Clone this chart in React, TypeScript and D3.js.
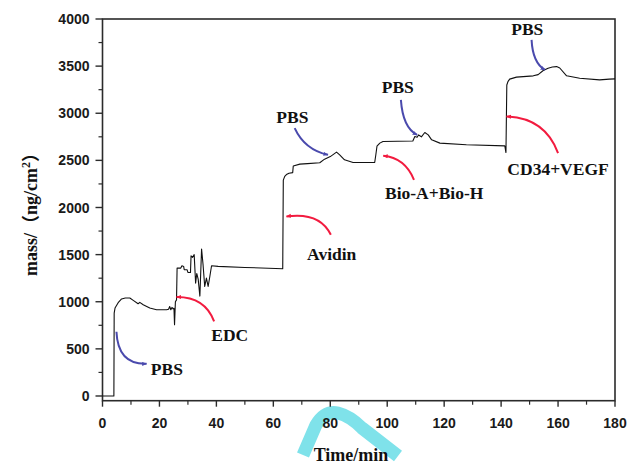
import React from "react";
import * as d3 from "d3";

const times: number[] = [0, 4.0, 4.1, 4.4, 5.5, 6.7, 8.0, 9.6, 10.8, 12.5, 13.1, 14.3, 16.6, 19, 22.5, 23.2, 23.6, 24.0, 24.4, 24.8, 25.1, 25.3, 25.6, 26.0, 26.2, 27.5, 27.9, 28.5, 28.7, 29.7, 30.0, 30.9, 31.1, 31.6, 32.2, 32.7, 33.1, 33.6, 34.2, 34.8, 35.3, 35.9, 36.5, 37.1, 37.7, 38.3, 40.6, 50, 63.3, 63.5, 64.0, 64.6, 65.5, 66.8, 67.0, 69.3, 72, 76.3, 78.0, 80.0, 82.2, 83.3, 85.0, 88.0, 95.6, 96.0, 96.4, 97.4, 98.5, 109, 109.7, 110.5, 111, 112, 113.2, 114.4, 115.6, 118.5, 127.8, 141.3, 141.7, 142.0, 142.4, 143, 145.4, 151.3, 153, 154.8, 156.5, 158, 159.5, 160.6, 163, 167.6, 174.6, 178, 180];
const masses: number[] = [0, 0, 880, 933, 990, 1030, 1040, 1039, 1014, 979, 993, 968, 933, 915, 915, 920, 950, 915, 940, 925, 930, 756, 1000, 1020, 1357, 1357, 1382, 1375, 1340, 1340, 1311, 1311, 1488, 1470, 1500, 1198, 1300, 1240, 1060, 1559, 1400, 1162, 1251, 1162, 1268, 1382, 1375, 1364, 1350, 2290, 2330, 2350, 2364, 2370, 2440, 2460, 2465, 2475, 2513, 2540, 2587, 2559, 2506, 2477, 2477, 2560, 2650, 2683, 2700, 2705, 2753, 2745, 2770, 2750, 2796, 2770, 2718, 2683, 2665, 2654, 2583, 3300, 3336, 3362, 3383, 3397, 3410, 3453, 3478, 3490, 3495, 3480, 3397, 3372, 3354, 3362, 3365];

const xTicks: number[] = [0, 20, 40, 60, 80, 100, 120, 140, 160, 180];
const yTicks: number[] = [0, 500, 1000, 1500, 2000, 2500, 3000, 3500, 4000];

// annotation labels (data coords) and arrows: start, control, end
const annLabels: string[] = ["PBS", "EDC", "Avidin", "PBS", "PBS", "Bio-A+Bio-H", "PBS", "CD34+VEGF"];
const annTextT: number[] = [22.6, 44.7, 80.5, 66.7, 103.7, 116.5, 149.2, 160];
const annTextV: number[] = [226, 586, 1445, 2895, 3213, 2092, 3831, 2347];
const annKind: string[] = ["blue", "red", "red", "blue", "blue", "red", "blue", "red"];
const arrowStart: [number, number][] = [[4.9, 682], [39.2, 791], [80.2, 1711], [67.5, 2842], [104.8, 3142], [109.4, 2294], [150.7, 3778], [160, 2577]];
const arrowCtrl: [number, number][] = [[5.4, 332], [36, 1052], [76.3, 1955], [71, 2612], [105.5, 2845], [106.2, 2527], [151.1, 3534], [155.4, 2951]];
const arrowEnd: [number, number][] = [[15.5, 342], [26, 1050], [64.6, 1905], [79.2, 2559], [110.5, 2771], [98.6, 2548], [155.4, 3460], [141.9, 2965]];

const W = 628, H = 464;
const left = 102.5, right = 615, top = 19, bottom = 400.7;

export default function App() {
  const x = d3.scaleLinear().domain([0, 180]).range([left, right]);
  const y = d3.scaleLinear().domain([-50, 4000]).range([bottom, top]);
  const data = times.map((t, i) => [t, masses[i]] as [number, number]);
  const line = d3.line<[number, number]>().x(d => x(d[0])).y(d => y(d[1]));
  const xMinor = d3.range(10, 180, 20);
  const yMinor = d3.range(250, 4000, 500);
  const colors: Record<string, string> = { red: "#f21b3f", blue: "#4a4aad" };
  const tickFont = "'Liberation Sans', Arial, sans-serif";
  const serif = "'Liberation Serif', 'Times New Roman', 'Noto Sans CJK SC', serif";
  const axisColor = "#2b2b2b";

  return (
    <svg width={W} height={H} style={{ position: "absolute", left: 0, top: 0, background: "#fff" }}>
      {/* watermark */}
      <path d="M303,455 L316,425 Q325,410 338,413 Q350,416 362,428 L398,456" fill="none" stroke="#7fe2ea" strokeWidth={13} />
      {/* frame */}
      <rect x={left} y={top} width={right - left} height={bottom - top} fill="none" stroke={axisColor} strokeWidth={1.6} />
      {/* y ticks */}
      {yTicks.map(v => (
        <g key={"y" + v}>
          <line x1={left - 7} x2={left} y1={y(v)} y2={y(v)} stroke={axisColor} strokeWidth={1.4} />
          <text x={left - 13} y={y(v)} dy="0.36em" textAnchor="end" fontFamily={tickFont} fontWeight="bold" fontSize={14} fill="#1a1a1a">{v}</text>
        </g>
      ))}
      {yMinor.map(v => (
        <line key={"ym" + v} x1={left - 4} x2={left} y1={y(v)} y2={y(v)} stroke={axisColor} strokeWidth={1.2} />
      ))}
      {/* x ticks */}
      {xTicks.map(t => (
        <g key={"x" + t}>
          <line x1={x(t)} x2={x(t)} y1={bottom} y2={bottom + 6} stroke={axisColor} strokeWidth={1.4} />
          <text x={x(t)} y={bottom + 27} textAnchor="middle" fontFamily={tickFont} fontWeight="bold" fontSize={14} fill="#1a1a1a">{t}</text>
        </g>
      ))}
      {xMinor.map(t => (
        <line key={"xm" + t} x1={x(t)} x2={x(t)} y1={bottom} y2={bottom + 4} stroke={axisColor} strokeWidth={1.2} />
      ))}
      {/* data line */}
      <path d={line(data) || ""} fill="none" stroke="#111" strokeWidth={1.1} strokeLinejoin="round" />
      {/* arrows */}
      <defs>
        <marker id="ah-red" viewBox="0 0 10 10" refX={9} refY={5} markerWidth={5} markerHeight={5} orient="auto" markerUnits="userSpaceOnUse">
          <path d="M0,1 L10,5 L0,9 z" fill={colors.red} />
        </marker>
        <marker id="ah-blue" viewBox="0 0 10 10" refX={9} refY={5} markerWidth={5} markerHeight={5} orient="auto" markerUnits="userSpaceOnUse">
          <path d="M0,1 L10,5 L0,9 z" fill={colors.blue} />
        </marker>
      </defs>
      {arrowStart.map((s, i) => {
        const c = arrowCtrl[i], e = arrowEnd[i];
        const d = `M${x(s[0])},${y(s[1])} Q${x(c[0])},${y(c[1])} ${x(e[0])},${y(e[1])}`;
        return (
          <path key={"a" + i} d={d} fill="none" stroke={colors[annKind[i]]} strokeWidth={2}
            markerEnd={`url(#ah-${annKind[i]})`} />
        );
      })}
      {annLabels.map((l, i) => (
        <text key={"l" + i} x={x(annTextT[i])} y={y(annTextV[i])} textAnchor="middle" fontFamily={serif} fontWeight="bold" fontSize={17.5} fill="#111">{l}</text>
      ))}
      {/* axis titles */}
      <text x={351} y={461} textAnchor="middle" fontFamily={serif} fontWeight="bold" fontSize={18} fill="#111">Time/min</text>
      <text transform={`translate(37,${210}) rotate(-90)`} textAnchor="middle" fontFamily={serif} fontWeight="bold" fontSize={18} fill="#111">
        mass/（ng/cm<tspan dy="-7" fontSize={12}>2</tspan><tspan dy="7">）</tspan>
      </text>
    </svg>
  );
}
